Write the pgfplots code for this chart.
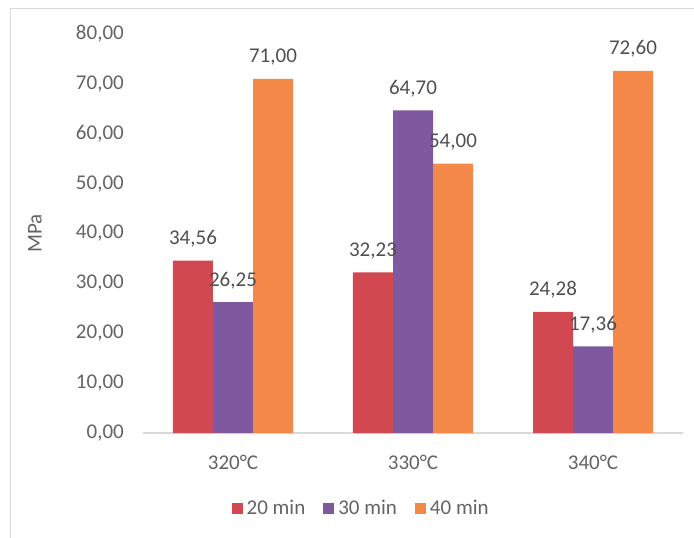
\documentclass[border=0pt]{standalone}
\usepackage{fontspec}
\setmainfont{Carlito}
\usepackage{pgfplots}
\pgfplotsset{compat=1.18}

\definecolor{barred}{RGB}{209,72,80}
\definecolor{barpurple}{RGB}{127,89,160}
\definecolor{barorange}{RGB}{243,136,72}
\definecolor{ticktext}{RGB}{100,100,100}
\definecolor{valtext}{RGB}{80,80,80}
\definecolor{axisgray}{RGB}{217,217,217}
\newcommand\chartfont{\fontsize{21}{25}\selectfont}

\begin{document}
\begin{tikzpicture}
\useasboundingbox (0pt,0pt) rectangle (694pt,-538pt);
% chart frame (left and top edges)
\draw[axisgray, line width=1pt] (10pt,-538pt) -- (10pt,-8pt) -- (694pt,-8pt);
\begin{axis}[
  at={(143pt,-433pt)}, anchor=south west,
  width=540pt, height=399pt, scale only axis,
  xmin=-0.5, xmax=2.5, ymin=0, ymax=80,
  ybar=0pt, bar width=40pt,
  clip=false,
  axis x line*=bottom, axis y line*=left,
  x axis line style={axisgray, line width=1.2pt, -},
  y axis line style={draw=none},
  major tick length=0pt,
  xtick={0,1,2},
  xticklabels={320°C,330°C,340°C},
  ytick={0,10,...,80},
  /pgf/number format/use comma,
  /pgf/number format/fixed,
  /pgf/number format/fixed zerofill,
  /pgf/number format/precision=2,
  /pgf/number format/assume math mode=true,
  tick label style={font=\chartfont, text=ticktext},
  yticklabel style={anchor=east, inner sep=0pt, xshift=-19pt},
  xticklabel style={anchor=north, inner sep=0pt, yshift=-22pt},
  ylabel={MPa},
  ylabel style={at={(axis description cs:-0.2,0.5)}, anchor=center, font=\chartfont, text=ticktext},
  nodes near coords,
  nodes near coords style={font=\chartfont, text=valtext, anchor=base, inner sep=0pt, yshift=16pt},
  legend columns=3,
  legend style={at={(0.404,-0.188)}, anchor=center, draw=none, font=\chartfont, text=ticktext,
    /tikz/every odd column/.append style={column sep=2pt},
    /tikz/every even column/.append style={column sep=16pt}},
  legend image code/.code={\fill[#1] (0pt,-5.5pt) rectangle (11pt,5.5pt);},
]
\addplot[fill=barred, draw=none] coordinates {(0,34.56) (1,32.23) (2,24.28)};
\addplot[fill=barpurple, draw=none] coordinates {(0,26.25) (1,64.70) (2,17.36)};
\addplot[fill=barorange, draw=none] coordinates {(0,71.00) (1,54.00) (2,72.60)};
\legend{20 min, 30 min, 40 min}
\end{axis}
\end{tikzpicture}
\end{document}
